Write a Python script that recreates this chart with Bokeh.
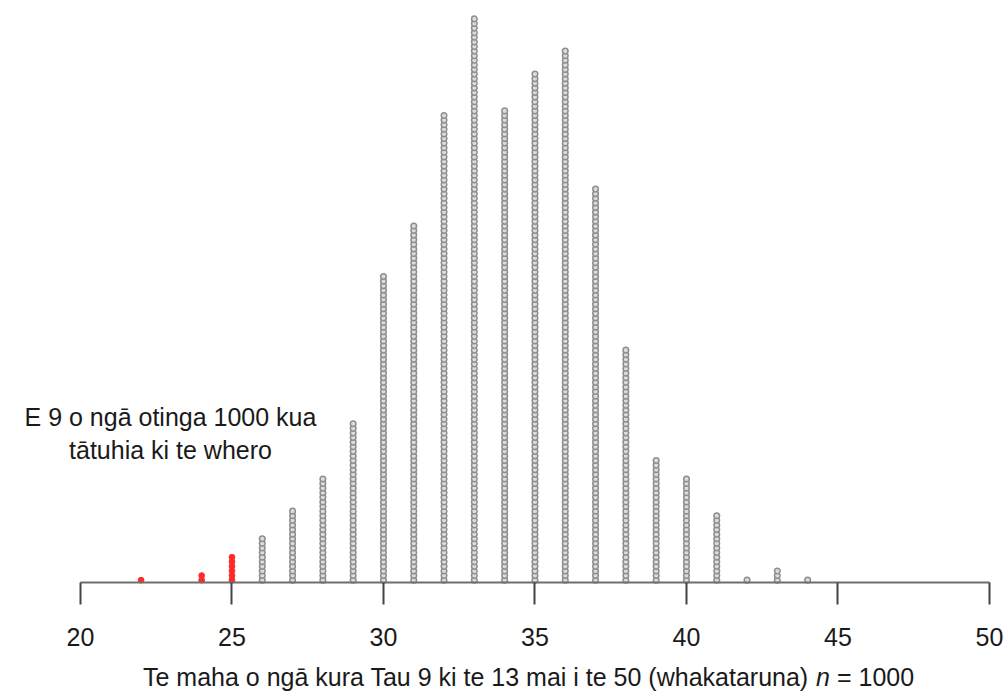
from bokeh.plotting import figure
from bokeh.models import Range1d, FixedTicker, Label, ColumnDataSource
from bokeh.embed import file_html
from bokeh.resources import INLINE

# ---- data ----
values = [22, 24, 25, 26, 27, 28, 29, 30, 31, 32, 33, 34, 35, 36, 37, 38, 39, 40, 41, 42, 43, 44]
counts = [1, 2, 6, 10, 16, 23, 35, 67, 78, 102, 123, 103, 111, 116, 86, 51, 27, 23, 15, 1, 3, 1]
red_threshold = 25
tick_values = [20, 25, 30, 35, 40, 45, 50]
annotation_lines = ["E 9 o ngā otinga 1000 kua", "tātuhia ki te whero"]
title_main = "Te maha o ngā kura Tau 9 ki te 13 mai i te 50 (whakataruna)"
title_var = "n"
title_tail = "= 1000"

# ---- build stacked dots ----
red = {"x": [], "y": []}
grey = {"x": [], "y": []}
for v, c in zip(values, counts):
    target = red if v <= red_threshold else grey
    for i in range(c):
        target["x"].append(v)
        target["y"].append(i + 0.5)

FONT = "Liberation Sans"
FS = "25px"

p = figure(width=1005, height=691,
           x_range=Range1d(17.36, 50.53), y_range=Range1d(-23.7, 126.5),
           output_backend="svg", toolbar_location=None,
           min_border_left=0, min_border_right=0, min_border_top=0,
           min_border_bottom=0, y_axis_location=None)
p.outline_line_color = None
p.grid.visible = False
p.background_fill_color = "white"
p.border_fill_color = "white"

p.scatter("x", "y", source=ColumnDataSource(grey), marker="circle", size=5.6,
          line_color="#8e8e8e", line_width=1.5, fill_color="#dcdcdc")
p.scatter("x", "y", source=ColumnDataSource(red), marker="circle", size=5.8,
          line_color="#ff2a2a", line_width=1, fill_color="#ff2a2a")

ax = p.xaxis[0]
ax.fixed_location = 0
ax.ticker = FixedTicker(ticks=tick_values)
ax.bounds = (20, 50)
ax.major_tick_out = 22
ax.major_tick_in = 0
ax.minor_tick_in = 0
ax.minor_tick_out = 0
ax.major_label_standoff = 24
ax.major_label_text_font = FONT
ax.major_label_text_font_size = FS
ax.major_label_text_color = "#1a1a1a"
ax.axis_line_color = "#6e6e6e"
ax.axis_line_width = 2
ax.major_tick_line_color = "#444444"
ax.major_tick_line_width = 2

# annotation text
for txt, yb in zip(annotation_lines, [35.9, 28.7]):
    p.add_layout(Label(x=22.97, y=yb, text=txt, text_align="center",
                       text_baseline="alphabetic", text_font=FONT,
                       text_font_size=FS, text_color="#1a1a1a"))

# axis title (with italic n)
tx, ty = 34.868, -20.5
start = -388
for txt, off, style in [(title_main, 0, "normal"), (title_var, 673.0, "italic"),
                        (title_tail, 694.0, "normal")]:
    p.add_layout(Label(x=tx, y=ty, x_offset=start + off, text=txt, text_align="left",
                       text_baseline="alphabetic", text_font=FONT,
                       text_font_size=FS, text_font_style=style,
                       text_color="#1a1a1a"))

open("out.html", "w").write(file_html(p, INLINE))
